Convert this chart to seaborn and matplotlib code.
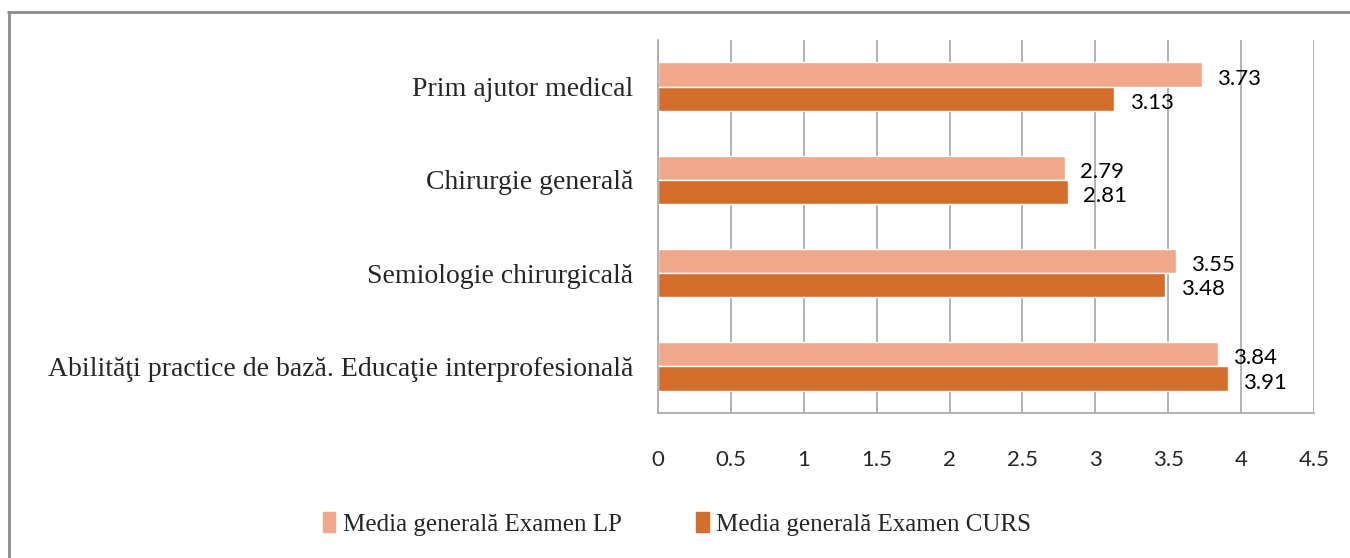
import matplotlib
matplotlib.use("Agg")
import matplotlib.pyplot as plt
import seaborn as sns
import pandas as pd
from matplotlib.lines import Line2D

categories = ["Prim ajutor medical", "Chirurgie generală", "Semiologie chirurgicală",
              "Abilităţi practice de bază. Educaţie interprofesională"]
series_names = ["Media generală Examen LP", "Media generală Examen CURS"]
lp_values = [3.73, 2.79, 3.55, 3.84]
curs_values = [3.13, 2.81, 3.48, 3.91]
x_ticks = [0, 0.5, 1, 1.5, 2, 2.5, 3, 3.5, 4, 4.5]
tick_labels = ["0", "0.5", "1", "1.5", "2", "2.5", "3", "3.5", "4", "4.5"]

df = pd.DataFrame({
    "cat": categories * 2,
    "series": [series_names[0]] * 4 + [series_names[1]] * 4,
    "value": lp_values + curs_values,
})

sns.set_theme(style="white")
plt.rcParams["font.family"] = ["Liberation Serif", "DejaVu Serif"]

colors = ["#F1A88A", "#D36E2C"]
W, H = 1350, 558
fig = plt.figure(figsize=(W / 100, H / 100), dpi=100)
ax = fig.add_axes([658 / W, 1 - 413 / H, (1314 - 658) / W, (413 - 40) / H])

sns.barplot(data=df, y="cat", x="value", hue="series", order=categories,
            hue_order=series_names, palette=colors, orient="h", width=0.52,
            saturation=1, ax=ax, legend=False)

ax.set_xlim(0, 4.5)
ax.set_xticks(x_ticks)
ax.set_xticklabels(tick_labels, family=["Lato", "DejaVu Sans"], fontsize=16)
ax.tick_params(axis="x", pad=27, length=0)
ax.tick_params(axis="y", pad=18, length=0, labelsize=20)
for lab in ax.get_yticklabels():
    lab.set_family(["Liberation Serif", "DejaVu Serif"])
ax.set_xlabel("")
ax.set_ylabel("")
ax.grid(axis="x", color="#A6A6A6", linewidth=1.2)
ax.set_axisbelow(True)
for s in ["top", "right"]:
    ax.spines[s].set_visible(False)
for s in ["left", "bottom"]:
    ax.spines[s].set_color("#A6A6A6")
    ax.spines[s].set_linewidth(1.2)

for cont in ax.containers:
    texts = ax.bar_label(cont, fmt="%.2f", padding=11, fontsize=16,
                         family=["Lato", "DejaVu Sans"], color="black")
    for t in texts:
        x0, y0 = t.xyann
        t.xyann = (x0, y0 - 3)

handles = [plt.Rectangle((0, 0), 1, 1, color=c) for c in colors]
fig.legend(handles, series_names, loc="center", bbox_to_anchor=(677 / W, 1 - 524 / H),
           ncol=2, frameon=False, handlelength=0.5, handleheight=0.8,
           handletextpad=0.3, columnspacing=3.0,
           prop={"family": ["Liberation Serif", "DejaVu Serif"], "size": 18})

# outer chart border (top and left visible)
fig.add_artist(Line2D([8 / W, 1], [1 - 12 / H, 1 - 12 / H], color="#8C8C8C", linewidth=2))
fig.add_artist(Line2D([9 / W, 9 / W], [0, 1 - 12 / H], color="#8C8C8C", linewidth=2))

fig.savefig("out.png", dpi=100)
